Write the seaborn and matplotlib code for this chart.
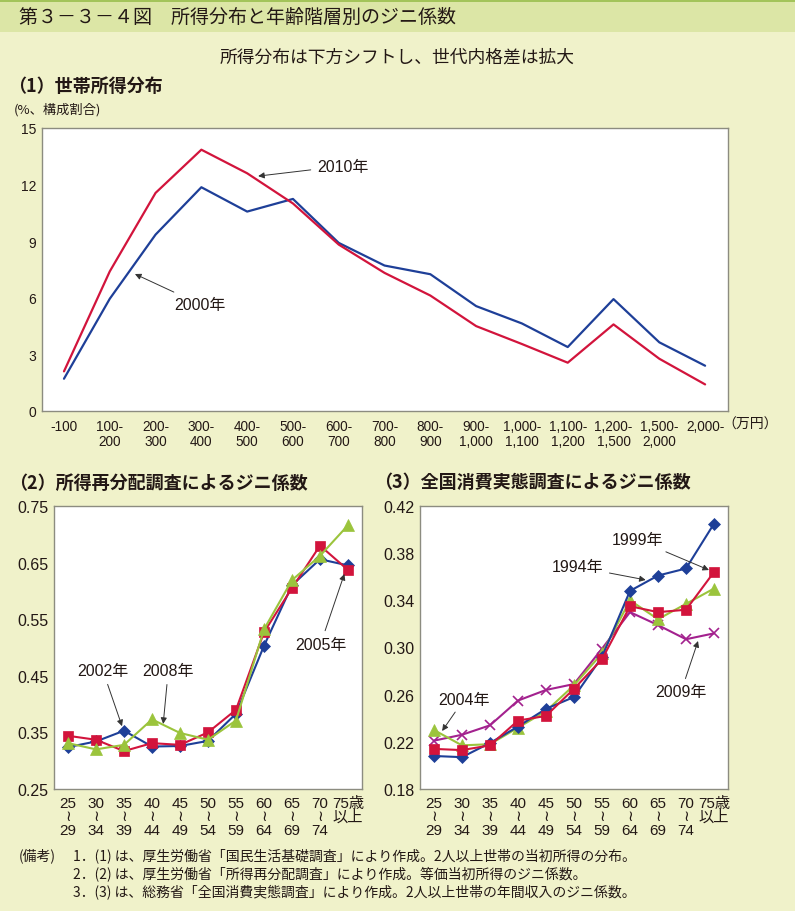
import numpy as np
import pandas as pd
import matplotlib
matplotlib.use("Agg")
import matplotlib.pyplot as plt
import seaborn as sns
from matplotlib.patches import Rectangle
from matplotlib.ticker import FixedLocator

sns.set_theme(style="white")
FAM = ['Liberation Sans', 'Noto Sans CJK JP', 'DejaVu Sans']
JFAM = ['Noto Sans CJK JP', 'DejaVu Sans']
plt.rcParams['font.family'] = FAM

# ---------------- data ----------------
income_labels = ["-100", "100-\n200", "200-\n300", "300-\n400", "400-\n500", "500-\n600",
                 "600-\n700", "700-\n800", "800-\n900", "900-\n1,000", "1,000-\n1,100",
                 "1,100-\n1,200", "1,200-\n1,500", "1,500-\n2,000", "2,000-"]
dist_2000 = [1.71, 5.95, 9.35, 11.86, 10.57, 11.24, 8.91, 7.71, 7.25, 5.56, 4.64, 3.39, 5.93, 3.64, 2.40]
dist_2010 = [2.10, 7.40, 11.56, 13.85, 12.60, 11.00, 8.82, 7.32, 6.12, 4.50, 3.55, 2.56, 4.59, 2.77, 1.41]

age_labels = ["25\n≀\n29", "30\n≀\n34", "35\n≀\n39", "40\n≀\n44", "45\n≀\n49", "50\n≀\n54",
              "55\n≀\n59", "60\n≀\n64", "65\n≀\n69", "70\n≀\n74", "75歳\n以上\n "]

redis_2002 = [0.324, 0.334, 0.353, 0.325, 0.326, 0.335, 0.383, 0.503, 0.610, 0.656, 0.645]
redis_2005 = [0.344, 0.337, 0.317, 0.331, 0.328, 0.350, 0.390, 0.527, 0.605, 0.680, 0.637]
redis_2008 = [0.331, 0.320, 0.328, 0.373, 0.349, 0.337, 0.371, 0.532, 0.619, 0.662, 0.716]

cons_1994 = [0.208, 0.207, 0.219, 0.233, 0.248, 0.258, 0.292, 0.348, 0.361, 0.367, 0.405]
cons_1999 = [0.214, 0.213, 0.217, 0.238, 0.242, 0.265, 0.290, 0.335, 0.330, 0.332, 0.364]
cons_2004 = [0.230, 0.217, 0.218, 0.232, 0.246, 0.268, 0.295, 0.340, 0.324, 0.337, 0.350]
cons_2009 = [0.221, 0.226, 0.234, 0.255, 0.264, 0.269, 0.299, 0.330, 0.319, 0.307, 0.312]

# ---------------- style ----------------
BG = "#F0F2CA"
HEAD = "#DCE6A6"
LINE_TOP = "#A3C45A"
RED = "#D2143C"
BLUE = "#1E3F98"
GREEN = "#9BC43C"
MAG = "#A3218E"
SPINE = "#8C8C80"
TXT = "#231815"

fig = plt.figure(figsize=(7.95, 9.12), dpi=100)
fig.patch.set_facecolor(BG)

W, H = 795.0, 912.0
def fx(px): return px / W
def fy(py): return 1 - py / H

# header band
fig.patches.append(Rectangle((0, fy(33)), 1, 33 / H, transform=fig.transFigure,
                             facecolor=HEAD, edgecolor='none', zorder=0))
fig.patches.append(Rectangle((0, fy(3)), 1, 3 / H, transform=fig.transFigure,
                             facecolor=LINE_TOP, edgecolor='none', zorder=0))
fig.text(fx(19), fy(17), "第３－３－４図　所得分布と年齢階層別のジニ係数", family=JFAM,
         fontsize=13.7, color=TXT, va='center', ha='left')
fig.text(0.5, fy(58), "所得分布は下方シフトし、世代内格差は拡大", family=JFAM,
         fontsize=12.8, color=TXT, va='center', ha='center')
fig.text(fx(8), fy(86), "（1）世帯所得分布", family=JFAM, fontsize=13, fontweight='bold',
         color=TXT, va='center', ha='left')
fig.text(fx(14), fy(110), "(%、構成割合)", family=JFAM, fontsize=9.5, color=TXT,
         va='center', ha='left')
fig.text(fx(9), fy(483), "（2）所得再分配調査によるジニ係数", family=JFAM, fontsize=13,
         fontweight='bold', color=TXT, va='center', ha='left')
fig.text(fx(374), fy(483), "（3）全国消費実態調査によるジニ係数", family=JFAM, fontsize=13,
         fontweight='bold', color=TXT, va='center', ha='left')

notes = [("(備考)", "1．(1) は、厚生労働省「国民生活基礎調査」により作成。2人以上世帯の当初所得の分布。"),
         ("", "2．(2) は、厚生労働省「所得再分配調査」により作成。等価当初所得のジニ係数。"),
         ("", "3．(3) は、総務省「全国消費実態調査」により作成。2人以上世帯の年間収入のジニ係数。")]
for i, (a, b) in enumerate(notes):
    y = fy(856 + i * 18)
    if a:
        fig.text(fx(19), y, a, family=JFAM, fontsize=10, color=TXT, va='center')
    fig.text(fx(73), y, b, family=JFAM, fontsize=10, color=TXT, va='center')


def style_axes(ax):
    ax.set_facecolor("white")
    for s in ax.spines.values():
        s.set_color(SPINE)
        s.set_linewidth(1.0)
    ax.set_xlabel("")
    ax.set_ylabel("")
    legend = ax.get_legend()
    if legend:
        legend.remove()


def arrow_note(ax, text, xy, xytext, ha='center'):
    ax.annotate(text, xy=xy, xytext=xytext, ha=ha, va='center', fontsize=11.5,
                family=FAM, color=TXT,
                arrowprops=dict(arrowstyle='-|>', color='#333333', lw=0.7,
                                mutation_scale=9, shrinkA=2, shrinkB=0))


# ---------------- (1) income distribution ----------------
ax1 = fig.add_axes([fx(42), fy(412), fx(728) - fx(42), fy(129) - fy(412)])
xi = np.arange(len(income_labels))
df1 = pd.DataFrame({"x": np.concatenate([xi, xi]),
                    "v": dist_2000 + dist_2010,
                    "year": ["2000"] * len(xi) + ["2010"] * len(xi)})
sns.lineplot(data=df1, x="x", y="v", hue="year", palette={"2000": BLUE, "2010": RED},
             lw=1.6, ax=ax1, sort=False)
style_axes(ax1)
ax1.set_xlim(-0.48, 14.5)
ax1.set_ylim(0, 15)
ax1.set_yticks([0, 3, 6, 9, 12, 15])
ax1.set_xticks(xi)
ax1.set_xticklabels(income_labels, fontsize=9.8, color=TXT, linespacing=1.05)
ax1.tick_params(axis='x', length=0, pad=6)
ax1.tick_params(axis='y', direction='in', length=3, color=SPINE, labelsize=10,
                labelcolor=TXT, pad=4)
ax1.text(14.37, -0.68, "（万円）", family=JFAM, fontsize=10, color=TXT, ha='left', va='center')
arrow_note(ax1, "2010年", (4.24, 12.45), (5.52, 12.98), ha='left')
arrow_note(ax1, "2000年", (1.55, 7.26), (2.40, 5.67), ha='left')


def gini_axes(rect, series, ylim, yticks, fmt):
    ax = fig.add_axes(rect)
    xa = np.arange(len(age_labels))
    for vals, color, marker, ms in series:
        sns.lineplot(x=xa, y=vals, color=color, marker=marker, markersize=ms, lw=1.5,
                     markeredgecolor=color, markeredgewidth=1.2 if marker == 'x' else 0.5,
                     ax=ax, sort=False)
    style_axes(ax)
    ax.set_xlim(-0.5, 10.5)
    ax.set_ylim(*ylim)
    ax.set_yticks(yticks)
    ax.set_yticklabels([fmt.format(t) for t in yticks])
    ax.set_xticks(xa)
    ax.set_xticklabels(age_labels, fontsize=11, color=TXT, linespacing=0.95)
    ax.xaxis.set_minor_locator(FixedLocator(np.arange(0.5, 10, 1.0)))
    ax.tick_params(axis='x', which='major', length=0, pad=5)
    ax.tick_params(axis='x', which='minor', direction='in', length=4, color=SPINE, width=1)
    ax.tick_params(axis='y', direction='in', length=4, color=SPINE, labelsize=11.5,
                   labelcolor=TXT, pad=4)
    return ax


ax2 = gini_axes([fx(54), fy(790), fx(362) - fx(54), fy(507) - fy(790)],
                [(redis_2002, BLUE, 'D', 6), (redis_2005, RED, 's', 7), (redis_2008, GREEN, '^', 8)],
                (0.25, 0.75), [0.25, 0.35, 0.45, 0.55, 0.65, 0.75], "{:.2f}")
arrow_note(ax2, "2002年", (1.93, 0.361), (1.25, 0.4585))
arrow_note(ax2, "2008年", (3.40, 0.365), (3.58, 0.4585))
arrow_note(ax2, "2005年", (9.87, 0.630), (9.02, 0.506))

ax3 = gini_axes([fx(420), fy(790), fx(728) - fx(420), fy(507) - fy(790)],
                [(cons_2009, MAG, 'x', 7), (cons_2004, GREEN, '^', 8), (cons_1994, BLUE, 'D', 6),
                 (cons_1999, RED, 's', 7)],
                (0.18, 0.42), [0.18, 0.22, 0.26, 0.30, 0.34, 0.38, 0.42], "{:.2f}")
arrow_note(ax3, "1999年", (9.82, 0.3657), (7.28, 0.3912))
arrow_note(ax3, "1994年", (7.56, 0.3573), (5.13, 0.3683))
arrow_note(ax3, "2009年", (9.43, 0.3055), (8.82, 0.2623))
arrow_note(ax3, "2004年", (0.29, 0.2292), (1.08, 0.2563))

fig.savefig("out.png", dpi=100, facecolor=BG)
